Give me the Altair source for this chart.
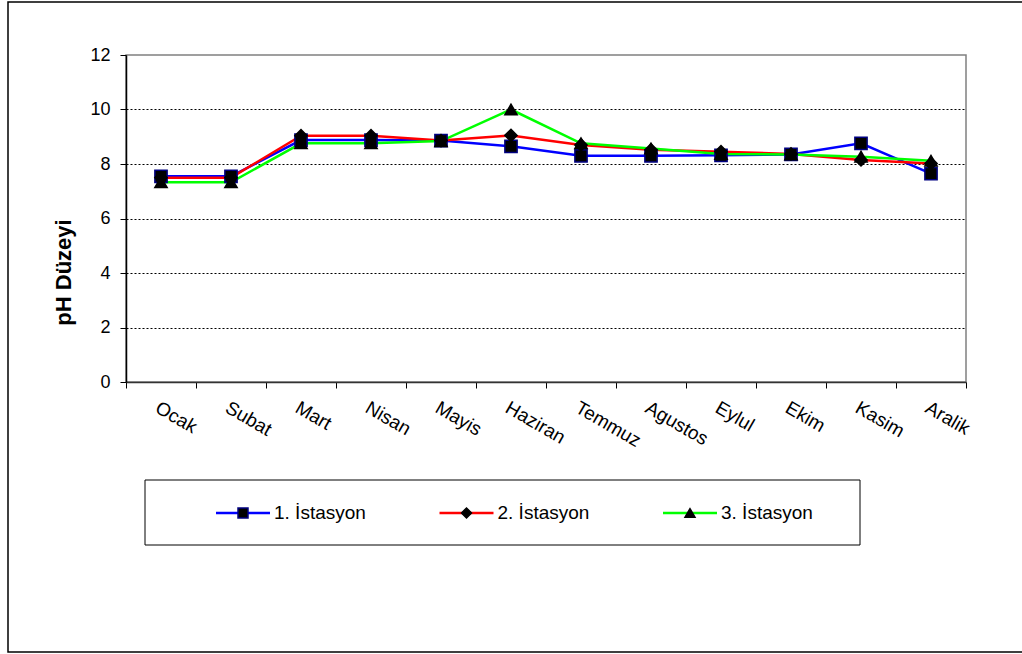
import altair as alt
import pandas as pd

# Monthly pH readings at three sampling stations
months = ["Ocak", "Subat", "Mart", "Nisan", "Mayis", "Haziran",
          "Temmuz", "Agustos", "Eylul", "Ekim", "Kasim", "Aralik"]
station_names = ["1. İstasyon", "2. İstasyon", "3. İstasyon"]
station1 = [7.55, 7.55, 8.88, 8.88, 8.86, 8.65, 8.30, 8.30, 8.32, 8.35, 8.76, 7.65]
station2 = [7.50, 7.50, 9.04, 9.04, 8.86, 9.05, 8.70, 8.52, 8.45, 8.37, 8.15, 8.02]
station3 = [7.33, 7.33, 8.76, 8.76, 8.84, 10.00, 8.76, 8.57, 8.37, 8.35, 8.27, 8.12]
y_ticks = [0, 2, 4, 6, 8, 10, 12]

line_colors = ["#0000FF", "#FF0000", "#00FF00"]
marker_shapes = ["square", "diamond", "triangle-up"]
marker_strokes = ["#000080", "#000000", "#000000"]

FONT = "Liberation Sans"
W, H = 840, 327

rows = []
for name, vals in zip(station_names, [station1, station2, station3]):
    for i, (m, v) in enumerate(zip(months, vals)):
        rows.append({"ay": m, "sira": i + 0.5, "istasyon": name, "ph": v})
df = pd.DataFrame(rows)
legend_df = pd.DataFrame({"istasyon": station_names})

month_array = "[" + ",".join("'" + m + "'" for m in months) + "]"
label_expr = "datum.value < %d ? %s[datum.value] : ''" % (len(months), month_array)

x_scale = alt.Scale(domain=[0, len(months)], nice=False, zero=False)
y_scale = alt.Scale(domain=[0, 12], nice=False)
color_scale = alt.Scale(domain=station_names, range=line_colors)
shape_scale = alt.Scale(domain=station_names, range=marker_shapes)
stroke_scale = alt.Scale(domain=station_names, range=marker_strokes)

y_axis = alt.Axis(
    values=y_ticks, title="pH Düzeyi", titleFontSize=22, titleFontWeight="bold",
    titleFont=FONT, titleColor="black", titleAngle=-90, titleAlign="center",
    titleBaseline="bottom", titleX=-51, titleY=217,
    labelFont=FONT, labelFontSize=18, labelColor="black", labelPadding=10,
    tickSize=6, tickColor="black", domainColor="black", domainWidth=1.5,
    grid=True, gridColor="black", gridDash=[2, 2], gridWidth=1,
    gridOpacity={"condition": {"test": "datum.value > 0 && datum.value < 12", "value": 1},
                 "value": 0},
)

# ticks on category boundaries, month names centred between them
x_axis = alt.Axis(
    values=list(range(len(months) + 1)), labelExpr=label_expr, title=None,
    tickSize=6, tickColor="black", domainColor="#333333", domainWidth=1.5, grid=False,
    labelOffset=W / len(months) / 2, labelAngle=30, labelAlign="left",
    labelBaseline="top", labelPadding=10, labelFont=FONT, labelFontSize=19,
    labelColor="black", labelBound=False, labelOverlap=False,
)

base = alt.Chart(df)

lines = base.mark_line(strokeWidth=2.5).encode(
    x=alt.X("sira:Q", scale=x_scale, axis=x_axis),
    y=alt.Y("ph:Q", scale=y_scale, axis=y_axis),
    color=alt.Color("istasyon:N", scale=color_scale, legend=None),
    detail="istasyon:N",
)

points = base.mark_point(filled=True, fill="black", size=150, strokeWidth=1.5,
                         opacity=1).encode(
    x=alt.X("sira:Q", scale=x_scale),
    y=alt.Y("ph:Q", scale=y_scale),
    shape=alt.Shape("istasyon:N", scale=shape_scale, legend=None),
    stroke=alt.Stroke("istasyon:N", scale=stroke_scale, legend=None),
)

frame_data = alt.Data(values=[{"k": 1}])

# outer chart frame
outer_frame = alt.Chart(frame_data).mark_rect(
    fill="white", fillOpacity=0, stroke="black", strokeWidth=1.5
).encode(x=alt.value(-118), x2=alt.value(920), y=alt.value(-53), y2=alt.value(597))

# legend: framed box with a line-and-marker sample and name for each station
legend_box = alt.Chart(frame_data).mark_rect(
    fill="white", stroke="black", strokeWidth=1
).encode(x=alt.value(19), x2=alt.value(734), y=alt.value(425), y2=alt.value(490))

leg = alt.Chart(legend_df)
leg_x = alt.X("istasyon:N", axis=None,
              scale=alt.Scale(type="point", domain=station_names, range=[117, 564],
                              padding=0))
leg_y = alt.value(458)

legend_lines = leg.mark_point(shape="M-1,0L1,0", size=2916, strokeWidth=2.5,
                              filled=False, opacity=1).encode(
    x=leg_x, y=leg_y,
    stroke=alt.Stroke("istasyon:N", scale=color_scale, legend=None),
)
legend_markers = leg.mark_point(filled=True, fill="black", size=100, strokeWidth=1.5,
                                opacity=1).encode(
    x=leg_x, y=leg_y,
    shape=alt.Shape("istasyon:N", scale=shape_scale, legend=None),
    stroke=alt.Stroke("istasyon:N", scale=stroke_scale, legend=None),
)
legend_text = leg.mark_text(align="left", baseline="middle", dx=31, font=FONT,
                            fontSize=19, color="black").encode(
    x=leg_x, y=leg_y, text="istasyon:N",
)

plot = alt.layer(outer_frame, legend_box, lines, points)
legend_layers = alt.layer(legend_lines, legend_markers, legend_text).resolve_scale(
    stroke="independent"
)

chart = alt.layer(plot, legend_layers).resolve_scale(
    x="independent", stroke="independent"
).properties(
    width=W, height=H,
    autosize=alt.AutoSizeParams(type="none"),
    padding={"left": 126, "top": 55, "right": 56, "bottom": 272},
    background="white",
).configure_view(
    stroke="#808080", strokeWidth=1.5
)

chart.save("out.html", embed_options={"renderer": "svg", "actions": False})
